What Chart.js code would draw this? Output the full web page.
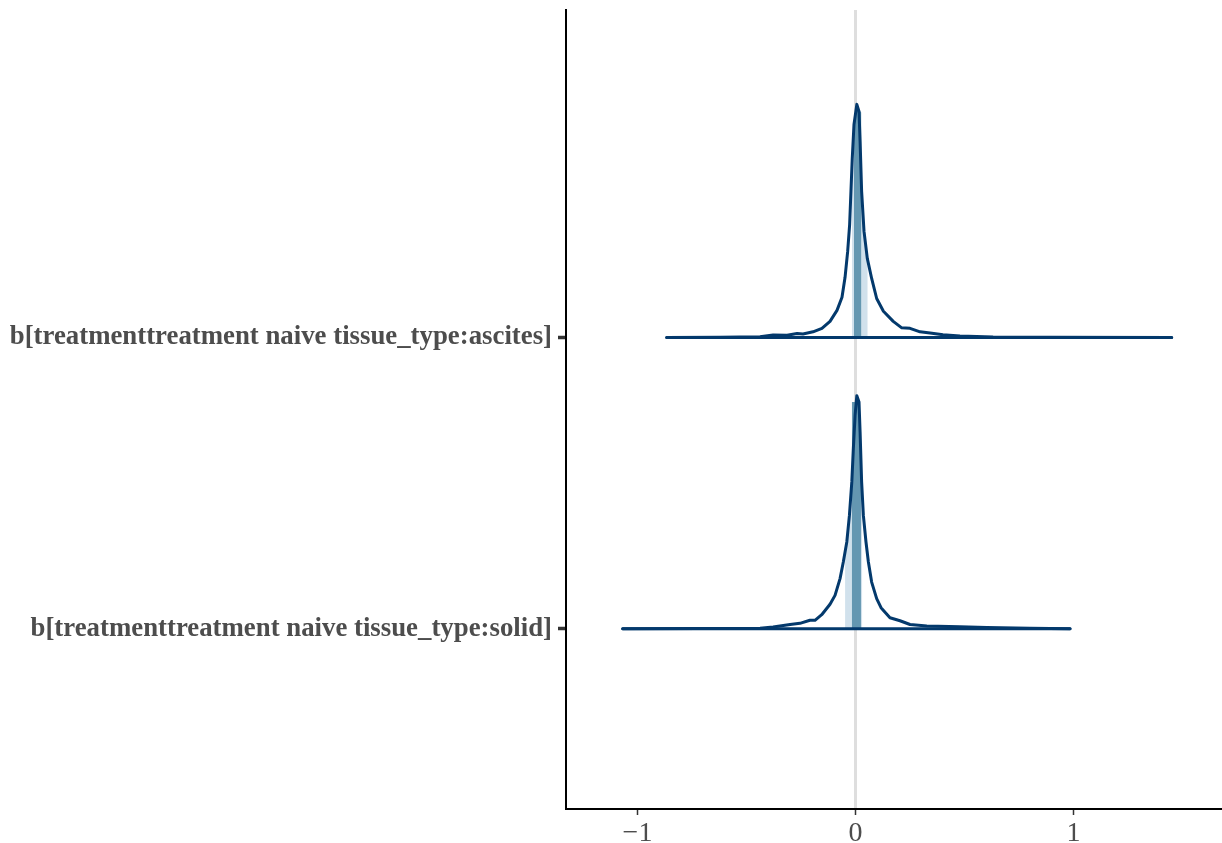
<!DOCTYPE html>
<html>
<head>
<meta charset="utf-8">
<script src="https://cdn.jsdelivr.net/npm/chart.js@4/dist/chart.umd.min.js"></script>
<style>
  html, body { margin: 0; padding: 0; background: #ffffff; }
  #wrap { width: 1222px; height: 843px; position: relative; }
</style>
</head>
<body>
<div id="wrap"><canvas id="c" width="1222" height="843"></canvas></div>
<script>
// ---- data ----
const parameters = [
  "b[treatmenttreatment naive tissue_type:solid]",
  "b[treatmenttreatment naive tissue_type:ascites]"
];
const rowPositions = [1, 2];           // solid = 1, ascites = 2
const xTickValues = [-1, 0, 1];

// density outline (x, relative density) for ascites
const ascitesX = [-0.866, -0.622, -0.438, -0.378, -0.314, -0.268, -0.241, -0.195, -0.154, -0.117, -0.085, -0.062, -0.048, -0.036, -0.027, -0.021, -0.015, -0.007, 0.006, 0.016, 0.021, 0.028, 0.039, 0.054, 0.074, 0.097, 0.128, 0.173, 0.212, 0.250, 0.296, 0.342, 0.401, 0.479, 0.631, 0.892, 1.450];
const ascitesDensity = [0, 0.001, 0.003, 0.010, 0.009, 0.017, 0.015, 0.024, 0.039, 0.069, 0.116, 0.172, 0.258, 0.369, 0.484, 0.627, 0.768, 0.914, 1.000, 0.970, 0.841, 0.627, 0.455, 0.339, 0.253, 0.167, 0.112, 0.069, 0.041, 0.039, 0.024, 0.019, 0.011, 0.006, 0.002, 0.001, 0];

// density outline for solid
const solidX = [-1.068, -0.713, -0.438, -0.378, -0.300, -0.255, -0.209, -0.186, -0.155, -0.117, -0.094, -0.071, -0.056, -0.040, -0.028, -0.017, -0.010, -0.002, 0.006, 0.016, 0.021, 0.028, 0.036, 0.048, 0.059, 0.074, 0.097, 0.117, 0.158, 0.204, 0.250, 0.327, 0.479, 0.602, 0.800, 0.984];
const solidDensity = [0, 0.001, 0.002, 0.007, 0.018, 0.023, 0.036, 0.036, 0.060, 0.105, 0.143, 0.215, 0.286, 0.372, 0.486, 0.630, 0.773, 0.915, 1.000, 0.973, 0.844, 0.630, 0.486, 0.372, 0.286, 0.200, 0.129, 0.090, 0.047, 0.034, 0.018, 0.012, 0.008, 0.005, 0.002, 0];

// outer (light) and inner (mid) interval areas
const ascitesOuterX = [-0.017, -0.015, -0.007, 0.006, 0.016, 0.021, 0.028, 0.039, 0.054, 0.056];
const ascitesOuterDensity = [0.68, 0.768, 0.914, 1.0, 0.97, 0.841, 0.627, 0.455, 0.339, 0.33];
const ascitesInnerX = [-0.007, 0.006, 0.016, 0.027];
const ascitesInnerDensity = [0.914, 1.0, 0.975, 0.965];

const solidOuterX = [-0.048, -0.040, -0.028, -0.017, -0.010, -0.002, 0.006, 0.016, 0.021, 0.028, 0.031];
const solidOuterDensity = [0.30, 0.372, 0.486, 0.63, 0.773, 0.915, 1.0, 0.973, 0.844, 0.63, 0.56];
const solidInnerX = [-0.017, -0.002, 0.006, 0.016, 0.021, 0.025];
const solidInnerDensity = [0.973, 0.973, 1.0, 0.973, 0.844, 0.72];

// ---- presentation ----
const ridgeScale = 0.80;
const colDark = '#03396c';
const colMid = '#6497b1';
const colLight = '#d1e1ec';

function pts(xs, ds, row) {
  return xs.map((x, i) => ({ x: x, y: row + ds[i] * ridgeScale }));
}

const ASC = rowPositions[1], SOL = rowPositions[0];

const datasets = [
  { data: pts(ascitesOuterX, ascitesOuterDensity, ASC), fill: { value: ASC }, backgroundColor: colLight, borderWidth: 0, order: 5 },
  { data: pts(solidOuterX, solidOuterDensity, SOL), fill: { value: SOL }, backgroundColor: colLight, borderWidth: 0, order: 5 },
  { data: pts(ascitesInnerX, ascitesInnerDensity, ASC), fill: { value: ASC }, backgroundColor: colMid, borderWidth: 0, order: 4 },
  { data: pts(solidInnerX, solidInnerDensity, SOL), fill: { value: SOL }, backgroundColor: colMid, borderWidth: 0, order: 4 },
  { data: [{ x: ascitesX[0], y: ASC }, { x: ascitesX[ascitesX.length - 1], y: ASC }], borderColor: colDark, borderWidth: 3, fill: false, order: 2 },
  { data: [{ x: solidX[0], y: SOL }, { x: solidX[solidX.length - 1], y: SOL }], borderColor: colDark, borderWidth: 3, fill: false, order: 2 },
  { data: pts(ascitesX, ascitesDensity, ASC), borderColor: colDark, borderWidth: 3, fill: false, order: 1 },
  { data: pts(solidX, solidDensity, SOL), borderColor: colDark, borderWidth: 3, fill: false, order: 1 }
];
datasets.forEach(d => { d.showLine = true; d.pointRadius = 0; d.tension = 0; d.borderJoinStyle = 'round'; d.borderCapStyle = 'round'; });

const serif = '"Liberation Serif", "Times New Roman", serif';

new Chart(document.getElementById('c'), {
  type: 'scatter',
  data: { datasets: datasets },
  options: {
    responsive: false,
    animation: false,
    events: [],
    layout: { padding: { top: 10, left: 0, right: 0, bottom: 0 } },
    plugins: { legend: { display: false }, tooltip: { enabled: false } },
    scales: {
      x: {
        type: 'linear',
        min: -1.328,
        max: 1.681,
        afterBuildTicks: s => { s.ticks = xTickValues.map(v => ({ value: v })); },
        afterFit: s => { s.height = 34; s.paddingLeft = 0; s.paddingRight = 0; },
        border: { display: true, color: '#000000', width: 2 },
        grid: {
          drawOnChartArea: true,
          color: c => (c.tick && c.tick.value === 0) ? '#dedede' : 'rgba(0,0,0,0)',
          lineWidth: 3,
          drawTicks: true,
          tickLength: 6,
          tickColor: '#333333',
          tickWidth: 1.5
        },
        ticks: {
          padding: 2,
          color: '#4d4d4d',
          font: { family: serif, size: 28 },
          callback: v => v < 0 ? '\u2212' + Math.abs(v) : String(v)
        }
      },
      y: {
        type: 'linear',
        min: 0.381,
        max: 3.124,
        afterBuildTicks: s => { s.ticks = rowPositions.map(v => ({ value: v })); },
        afterFit: s => { s.width = 566; s.paddingTop = 0; s.paddingBottom = 0; },
        border: { display: true, color: '#000000', width: 2 },
        grid: {
          drawOnChartArea: false,
          drawTicks: true,
          tickLength: 8,
          tickColor: '#333333',
          tickWidth: 3.5
        },
        ticks: {
          padding: 6,
          color: '#4d4d4d',
          font: { family: serif, size: 26.8, weight: 'bold' },
          callback: v => parameters[rowPositions.indexOf(v)]
        }
      }
    }
  }
});
</script>
</body>
</html>
